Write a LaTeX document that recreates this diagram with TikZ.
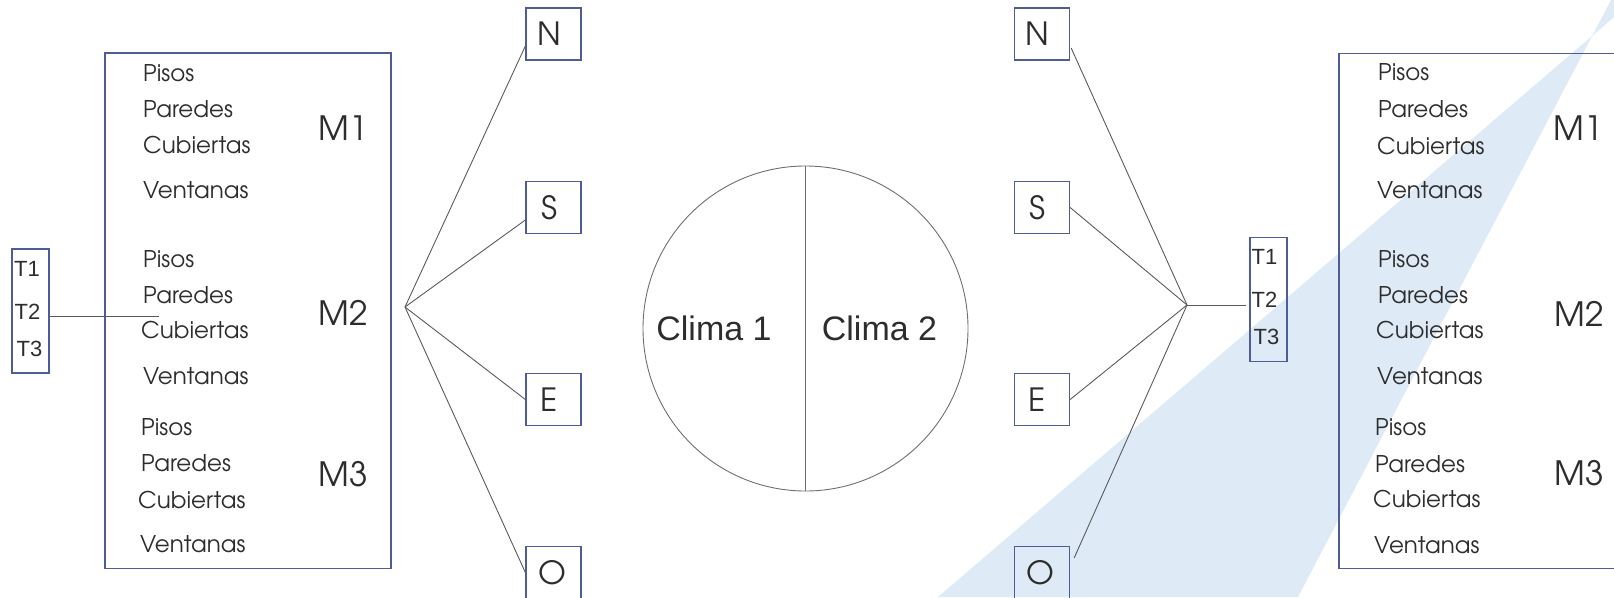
\documentclass[tikz,border=0pt]{standalone}
\usepackage{fontspec}
\setmainfont{TeX Gyre Adventor}
\newfontfamily\arialf{Liberation Sans}
\usetikzlibrary{calc}
\definecolor{boxblue}{RGB}{78,92,152}
\definecolor{linegray}{RGB}{90,90,90}
\definecolor{circgray}{RGB}{110,110,110}
\definecolor{txt}{RGB}{45,45,45}
\definecolor{wmblue}{RGB}{222,235,247}
\tikzset{
  bx/.style={draw=boxblue, line width=1.3pt, inner sep=0pt},
  cn/.style={draw=linegray, line width=0.9pt},
  item/.style={anchor=west, inner sep=0pt, font=\fontsize{23}{23}\selectfont, text=txt},
  mlab/.style={inner sep=0pt, font=\fontsize{33.5}{33.5}\selectfont, text=txt},
  tlab/.style={anchor=west, inner sep=0pt, font=\arialf\fontsize{22}{22}\selectfont, text=txt},
  dirbox/.style={bx, minimum width=55pt, minimum height=52pt, font=\fontsize{32}{32}\selectfont, text=txt},
  bigbox/.style={bx, minimum width=286pt, minimum height=515.5pt},
  tbox/.style={bx, minimum width=37pt, minimum height=124pt},
  clima/.style={inner sep=0pt, font=\arialf\fontsize{34}{34}\selectfont, text=txt},
}
\begin{document}
\begin{tikzpicture}[x=1pt,y=-1pt]
\useasboundingbox (0,0) rectangle (1614,597);
\clip (0,0) rectangle (1614,597);
% watermark
\fill[wmblue] (938,597) -- (1298,597) -- (1611,0) -- (1634,0) -- cycle;

% big boxes
\node[bigbox] (BL) at (248,310.75) {};
\node[bigbox] (BR) at (1482,311) {};

% left list
\foreach \x/\y/\t [count=\k] in {143/73/Pisos,143/109/Paredes,143/145/Cubiertas,143/190.5/Ventanas,
  143/259/Pisos,143/295/Paredes,141/330/Cubiertas,143/376/Ventanas,
  141/427/Pisos,141/463.6/Paredes,138/500/Cubiertas,140/544/Ventanas}
  \node[item] (iL\k) at (\x,\y) {\t};
% right list
\foreach \x/\y/\t [count=\k] in {1378/72/Pisos,1378/109/Paredes,1377/146/Cubiertas,1377/190/Ventanas,
  1378/259/Pisos,1378/295/Paredes,1376/330/Cubiertas,1377/376/Ventanas,
  1375/427/Pisos,1375/464/Paredes,1373/499/Cubiertas,1374/545/Ventanas}
  \node[item] (iR\k) at (\x,\y) {\t};

% M labels
\node[mlab] (M1L) at (343,128) {M1};
\node[mlab] (M2L) at (343,313) {M2};
\node[mlab] (M3L) at (343,474) {M3};
\node[mlab] (M1R) at (1578,128) {M1};
\node[mlab] (M2R) at (1579,314) {M2};
\node[mlab] (M3R) at (1579,473) {M3};

% T boxes
\node[tbox] (TL) at (30.5,311) {};
\node[tlab] (T1L) at (14,269) {T1};
\node[tlab] (T2L) at (14.5,312) {T2};
\node[tlab] (T3L) at (16.5,349) {T3};
\node[tbox] (TR) at (1268.5,299.5) {};
\node[tlab] (T1R) at (1251.5,257) {T1};
\node[tlab] (T2R) at (1251.5,300) {T2};
\node[tlab] (T3R) at (1253.5,337) {T3};

% direction boxes
\node[dirbox] (NL) at (553.5,34) {N\kern9pt};
\node[dirbox] (SL) at (553.5,207.5) {S\kern9pt};
\node[dirbox] (EL) at (553.5,399.5) {E\kern9pt};
\node[dirbox] (OL) at (553.5,572.5) {O\kern3pt};
\node[dirbox] (NR) at (1042,34) {N\kern9pt};
\node[dirbox] (SR) at (1042,207.5) {S\kern9pt};
\node[dirbox] (ER) at (1042,399.5) {E\kern9pt};
\node[dirbox] (OR) at (1042,572.5) {O\kern3pt};

% circle
\node[draw=circgray, line width=0.9pt, circle, minimum size=325pt, inner sep=0pt] (CC) at (805.5,328.5) {};
\draw[draw=circgray, line width=0.9pt] (CC.north) -- (CC.south);
\node[clima] (C1) at (714,328) {Clima 1};
\node[clima] (C2) at (879.5,328) {Clima 2};

% connectors
\coordinate (fL) at (405,307);
\coordinate (fR) at (1187,305);
\coordinate (cL) at (159,316);
\draw[cn] (TL.east |- cL) -- (cL);
\draw[cn] (fL) -- ($(NL.west)+(0,12)$);
\draw[cn] (fL) -- ($(SL.west)+(0,12.5)$);
\draw[cn] (fL) -- (EL.west);
\draw[cn] (fL) -- (OL.west);
\draw[cn] (fR) -- ($(NR.east)+(1,14)$);
\draw[cn] (fR) -- (SR.east);
\draw[cn] (fR) -- (ER.east);
\draw[cn] (fR) -- ($(OR.east)+(4,-14.5)$);
\draw[cn] (fR) -- ($(TR.west |- fR)+(-3,0)$);
\end{tikzpicture}
\end{document}
